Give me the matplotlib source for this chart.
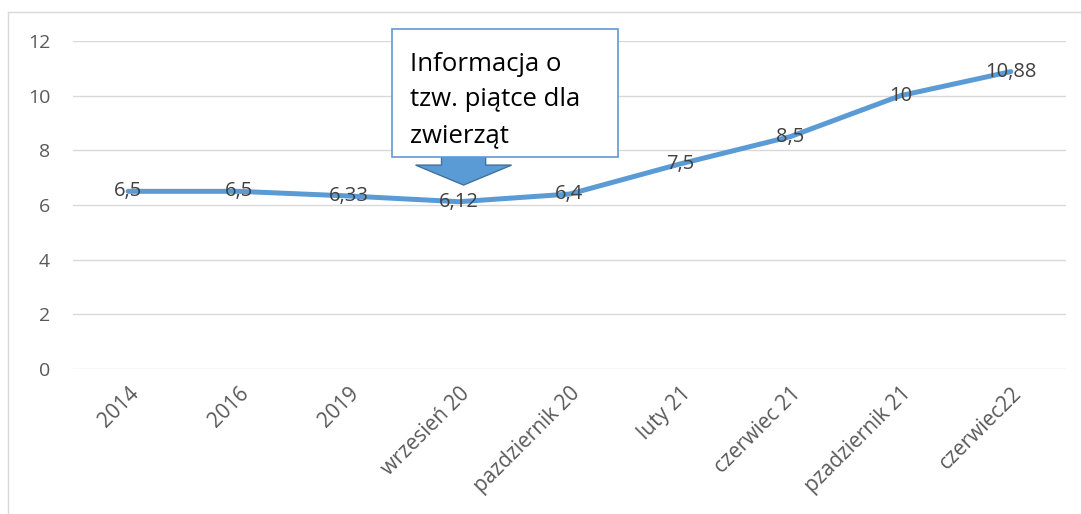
import matplotlib.pyplot as plt
from matplotlib.patches import FancyArrow
from matplotlib.lines import Line2D

categories = ["2014", "2016", "2019", "wrzesień 20", "pazdziernik 20",
              "luty 21", "czerwiec 21", "pzadziernik 21", "czerwiec22"]
values = [6.5, 6.5, 6.33, 6.12, 6.4, 7.5, 8.5, 10, 10.88]
value_labels = ["6,5", "6,5", "6,33", "6,12", "6,4", "7,5", "8,5", "10", "10,88"]
yticks = [0, 2, 4, 6, 8, 10, 12]
note = "Informacja o\ntzw. piątce dla\nzwierząt"

plt.rcParams['font.family'] = ['Open Sans', 'DejaVu Sans']

fig = plt.figure(figsize=(10.81, 5.14), dpi=100)
ax = fig.add_axes([73 / 1081, 1 - 369 / 514, 993 / 1081, 328 / 514])

x = list(range(len(categories)))
ax.plot(x, values, color="#5B9BD5", lw=3.6, solid_capstyle="round", zorder=3)
for xi, v, lab in zip(x, values, value_labels):
    ax.text(xi, v, lab, ha="center", va="center", fontsize=14.5,
            color="#404040", zorder=4)

ax.set_xlim(-0.5, len(categories) - 0.5)
ax.set_ylim(0, 12)
ax.set_yticks(yticks)
ax.set_yticklabels([str(t) for t in yticks])
ax.set_xticks(x)
ax.set_xticklabels(categories, rotation=45, ha="right", rotation_mode="anchor")
ax.tick_params(axis="both", length=0, colors="#595959")
ax.tick_params(axis="y", pad=16.5, labelsize=14)
ax.tick_params(axis="x", pad=10, labelsize=15)
ax.grid(axis="y", color="#D9D9D9", lw=1)
ax.set_axisbelow(True)
for s in ax.spines.values():
    s.set_visible(False)

# callout: down arrow under a text box
ax.add_patch(FancyArrow(3.04, 8.05, 0, -1.32, width=0.4, head_width=0.87,
                        head_length=0.73, length_includes_head=True,
                        facecolor="#5B9BD5", edgecolor="#41719C", lw=1,
                        zorder=5))
fig.patches.append(plt.Rectangle((392 / 1081, 1 - 157 / 514),
                                 226 / 1081, 128 / 514,
                                 transform=fig.transFigure,
                                 facecolor="white", edgecolor="#5B9BD5",
                                 lw=1.2, zorder=5))
fig.text(410 / 1081, 1 - 100 / 514, note, ha="left", va="center",
         fontsize=18.5, color="black", linespacing=1.55, zorder=6)

# outer chart border (left and top visible)
fig.add_artist(Line2D([8 / 1081, 8 / 1081], [0, 1 - 12 / 514],
                      color="#D9D9D9", lw=1, transform=fig.transFigure))
fig.add_artist(Line2D([8 / 1081, 1], [1 - 12 / 514, 1 - 12 / 514],
                      color="#D9D9D9", lw=1, transform=fig.transFigure))

fig.savefig("out.png", dpi=100, facecolor="white")
